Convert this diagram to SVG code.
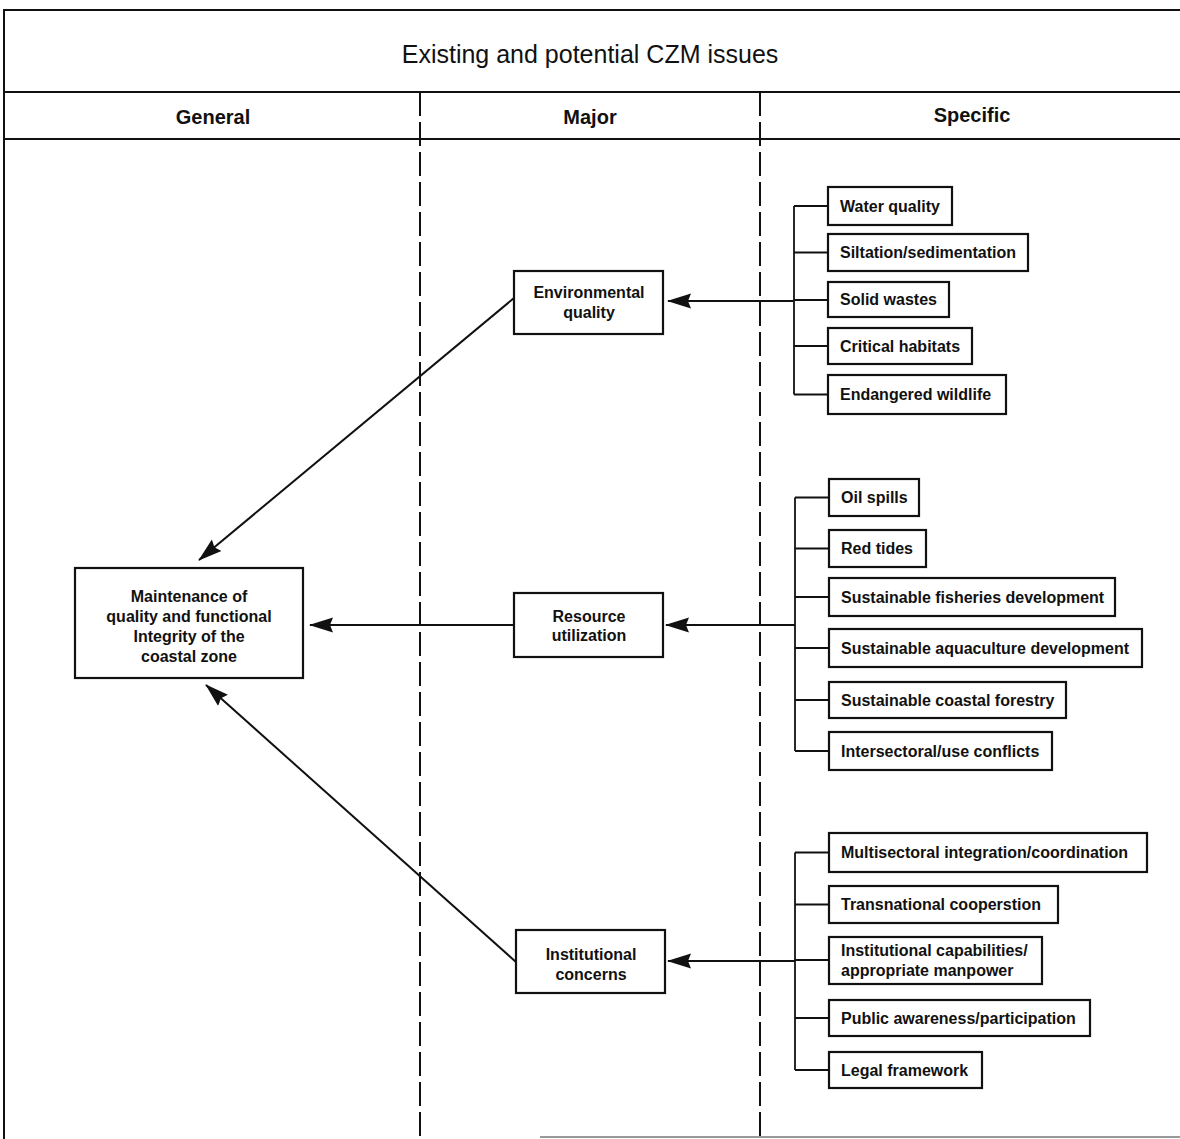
<svg xmlns="http://www.w3.org/2000/svg" width="1180" height="1139" viewBox="0 0 1180 1139">
<style>
.frame{stroke:#111;stroke-width:2;fill:none}
.dash{stroke:#111;stroke-width:2;fill:none;stroke-dasharray:24 6}
.box{fill:#fff;stroke:#111;stroke-width:2.2}
.ln{stroke:#111;stroke-width:1.8;fill:none}
.arr{stroke:#111;stroke-width:2;fill:none;marker-end:url(#ah)}
.t{font-family:"Liberation Sans",Arial,sans-serif;font-weight:bold;font-size:16px;fill:#111}
.c{text-anchor:middle}
.title{font-family:"Liberation Sans",Arial,sans-serif;font-size:25px;fill:#111;text-anchor:middle}
.hd{font-family:"Liberation Sans",Arial,sans-serif;font-weight:bold;font-size:20px;fill:#111;text-anchor:middle}
</style>
<defs>
<marker id="ah" markerUnits="userSpaceOnUse" viewBox="0 -8 24 16" markerWidth="24" markerHeight="16" refX="23" refY="0" orient="auto">
<path d="M0,-7.5 L24,0 L0,7.5 L3,0 Z" fill="#111"/>
</marker>
</defs>
<rect width="1180" height="1139" fill="#fff"/>
<g id="table">
<line class="frame" x1="4" y1="10" x2="1180" y2="10"/>
<line class="frame" x1="4" y1="9" x2="4" y2="1139"/>
<line class="frame" x1="4" y1="92" x2="1180" y2="92"/>
<line class="frame" x1="4" y1="139" x2="1180" y2="139"/>
<line class="dash" x1="420" y1="92" x2="420" y2="1139"/>
<line class="dash" x1="760" y1="92" x2="760" y2="1139"/>
<line x1="540" y1="1137" x2="1180" y2="1137" stroke="#999" stroke-width="2"/>
<text class="title" x="590" y="63">Existing and potential CZM issues</text>
<text class="hd" x="213" y="124">General</text>
<text class="hd" x="590" y="124">Major</text>
<text class="hd" x="972" y="122">Specific</text>
</g>
<g id="connectors">
<line class="ln" x1="794" y1="206" x2="794" y2="394.5"/>
<line class="ln" x1="794" y1="206" x2="828" y2="206"/>
<line class="ln" x1="794" y1="252.5" x2="828" y2="252.5"/>
<line class="ln" x1="794" y1="300" x2="828" y2="300"/>
<line class="ln" x1="794" y1="346" x2="828" y2="346"/>
<line class="ln" x1="794" y1="394.5" x2="828" y2="394.5"/>
<line class="arr" x1="794" y1="301" x2="668" y2="301"/>
<line class="ln" x1="795" y1="497.5" x2="795" y2="751"/>
<line class="ln" x1="795" y1="497.5" x2="829" y2="497.5"/>
<line class="ln" x1="795" y1="548.5" x2="829" y2="548.5"/>
<line class="ln" x1="795" y1="597" x2="829" y2="597"/>
<line class="ln" x1="795" y1="648" x2="829" y2="648"/>
<line class="ln" x1="795" y1="700" x2="829" y2="700"/>
<line class="ln" x1="795" y1="751" x2="829" y2="751"/>
<line class="arr" x1="795" y1="625" x2="666" y2="625"/>
<line class="ln" x1="795" y1="852.5" x2="795" y2="1070"/>
<line class="ln" x1="795" y1="852.5" x2="829" y2="852.5"/>
<line class="ln" x1="795" y1="904.5" x2="829" y2="904.5"/>
<line class="ln" x1="795" y1="960" x2="829" y2="960"/>
<line class="ln" x1="795" y1="1018" x2="829" y2="1018"/>
<line class="ln" x1="795" y1="1070" x2="829" y2="1070"/>
<line class="arr" x1="795" y1="961" x2="668" y2="961"/>
<line class="arr" x1="514" y1="298" x2="199" y2="560"/>
<line class="arr" x1="514" y1="625" x2="310" y2="625"/>
<line class="arr" x1="516" y1="962" x2="206" y2="685"/>
</g>
<g id="main">
<rect class="box" x="75" y="568" width="228" height="110"/>
<text class="t c" x="189" y="602">Maintenance of</text>
<text class="t c" x="189" y="622">quality and functional</text>
<text class="t c" x="189" y="642">Integrity of the</text>
<text class="t c" x="189" y="662">coastal zone</text>
</g>
<g id="env">
<rect class="box" x="514" y="271" width="149" height="63"/>
<text class="t c" x="589" y="298">Environmental</text>
<text class="t c" x="589" y="318">quality</text>
</g>
<g id="res">
<rect class="box" x="514" y="593" width="149" height="64"/>
<text class="t c" x="589" y="622">Resource</text>
<text class="t c" x="589" y="641">utilization</text>
</g>
<g id="inst">
<rect class="box" x="516" y="930" width="149" height="63"/>
<text class="t c" x="591" y="960">Institutional</text>
<text class="t c" x="591" y="980">concerns</text>
</g>
<g id="s-water"><rect class="box" x="828" y="187" width="124" height="38"/><text class="t" x="840" y="212">Water quality</text></g>
<g id="s-silt"><rect class="box" x="828" y="234" width="200" height="37"/><text class="t" x="840" y="258">Siltation/sedimentation</text></g>
<g id="s-solid"><rect class="box" x="828" y="282" width="121" height="35"/><text class="t" x="840" y="305">Solid wastes</text></g>
<g id="s-crit"><rect class="box" x="828" y="328" width="144" height="36"/><text class="t" x="840" y="352">Critical habitats</text></g>
<g id="s-endg"><rect class="box" x="828" y="375" width="178" height="39"/><text class="t" x="840" y="400">Endangered wildlife</text></g>
<g id="s-oil"><rect class="box" x="829" y="479" width="90" height="37"/><text class="t" x="841" y="503">Oil spills</text></g>
<g id="s-red"><rect class="box" x="829" y="530" width="97" height="37"/><text class="t" x="841" y="554">Red tides</text></g>
<g id="s-fish"><rect class="box" x="829" y="578" width="286" height="38"/><text class="t" x="841" y="603">Sustainable fisheries development</text></g>
<g id="s-aqua"><rect class="box" x="829" y="629" width="313" height="38"/><text class="t" x="841" y="654">Sustainable aquaculture development</text></g>
<g id="s-forest"><rect class="box" x="829" y="682" width="237" height="36"/><text class="t" x="841" y="706">Sustainable coastal forestry</text></g>
<g id="s-inter"><rect class="box" x="829" y="732" width="223" height="38"/><text class="t" x="841" y="757">Intersectoral/use conflicts</text></g>
<g id="s-multi"><rect class="box" x="829" y="833" width="318" height="39"/><text class="t" x="841" y="858">Multisectoral integration/coordination</text></g>
<g id="s-trans"><rect class="box" x="829" y="886" width="229" height="37"/><text class="t" x="841" y="910">Transnational cooperstion</text></g>
<g id="s-cap"><rect class="box" x="829" y="937" width="213" height="47"/><text class="t" x="841" y="956">Institutional capabilities/</text><text class="t" x="841" y="976">appropriate manpower</text></g>
<g id="s-public"><rect class="box" x="829" y="1000" width="261" height="36"/><text class="t" x="841" y="1024">Public awareness/participation</text></g>
<g id="s-legal"><rect class="box" x="829" y="1052" width="153" height="36"/><text class="t" x="841" y="1076">Legal framework</text></g>
</svg>
